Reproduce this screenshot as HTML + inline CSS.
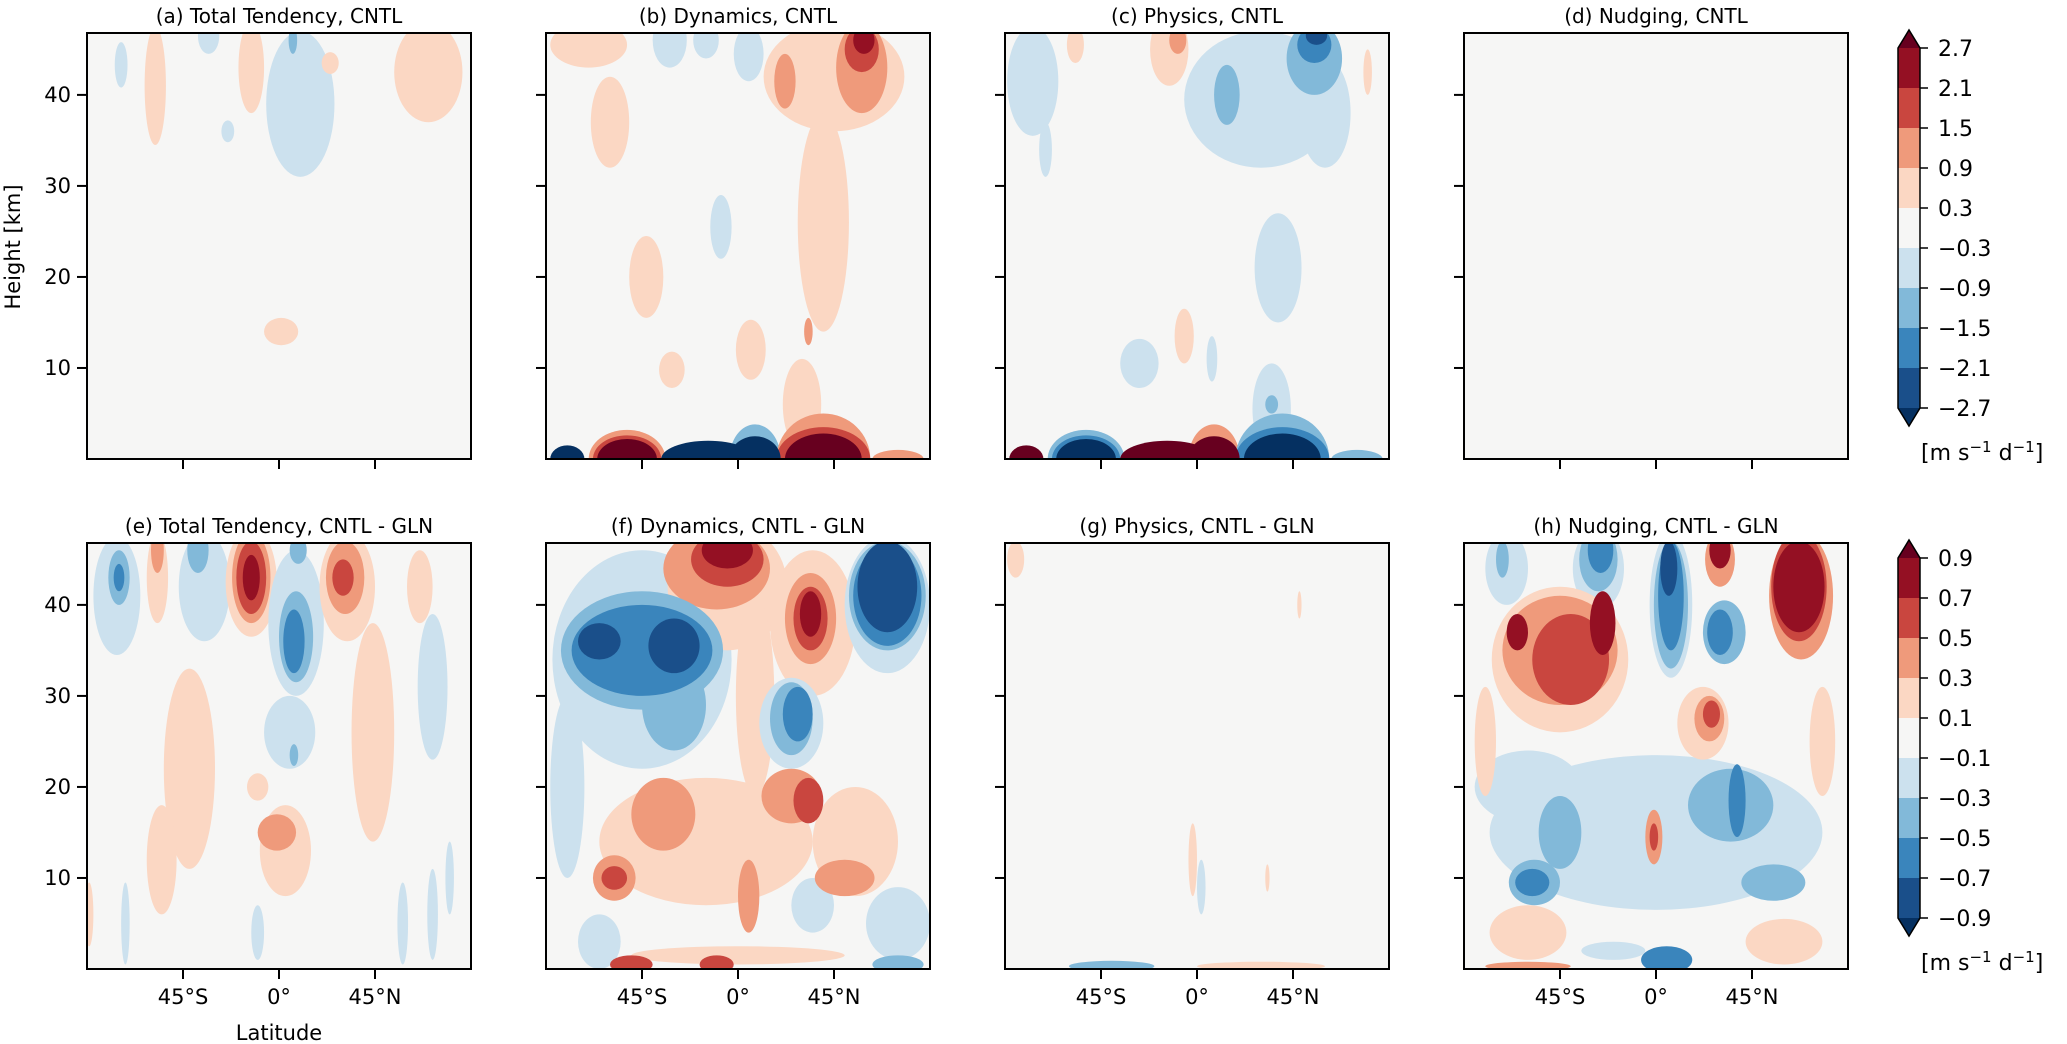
<!DOCTYPE html>
<html><head><meta charset="utf-8"><style>
html,body{margin:0;padding:0;background:#fff;}
svg{display:block;font-family:"DejaVu Sans","Liberation Sans",sans-serif;}
</style></head><body>
<svg id="fig" width="2067" height="1044" viewBox="0 0 2067 1044" xmlns="http://www.w3.org/2000/svg"></svg>
<script>
// ---- data: blobs [lat, height_km, half-width_deg, half-height_km, value]
const levelsTop = [-2.7,-2.1,-1.5,-0.9,-0.3,0.3,0.9,1.5,2.1,2.7];
const levelsBot = [-0.9,-0.7,-0.5,-0.3,-0.1,0.1,0.3,0.5,0.7,0.9];
const panelTitles = ["(a) Total Tendency, CNTL","(b) Dynamics, CNTL","(c) Physics, CNTL","(d) Nudging, CNTL",
 "(e) Total Tendency, CNTL - GLN","(f) Dynamics, CNTL - GLN","(g) Physics, CNTL - GLN","(h) Nudging, CNTL - GLN"];
const yTicks = [10,20,30,40];
const xTicks = [-45,0,45];
const xTickLabels = ["45°S","0°","45°N"];
const cbTopLabels = ["2.7","2.1","1.5","0.9","0.3","\u22120.3","\u22120.9","\u22121.5","\u22122.1","\u22122.7"];
const cbBotLabels = ["0.9","0.7","0.5","0.3","0.1","\u22120.1","\u22120.3","\u22120.5","\u22120.7","\u22120.9"];
const blobsA = [[-74,43.3,3,2.5,-0.5],[-58,41,5,6.5,0.5],[-33,46.5,5,2,-0.5],[-13,43,6,5,0.5],[10,39,16,8,-0.5],[6.5,46,2,1.5,-1.0],
 [-24,36,3,1.2,-0.5],[24,43.5,4,1.2,0.5],[70,42.5,16,5.5,0.5],[1,14,8,1.5,0.5]];
const blobsB = [[-70,45.5,18,2.5,0.5],[-32,46,8,3,-0.5],[-15,46,6,2,-0.5],[5,44.5,7,3,-0.5],[45,42,33,6,0.5],[40,26,12,12,0.5],
 [58,43,12,5,1.2],[58,45,8,2.5,1.8],[59,46,5,1.5,2.4],[22,41.5,5,3,1.2],[-60,37,9,5,0.5],[-8,25.5,5,3.5,-0.5],[-43,20,8,4.5,0.5],
 [6,12,7,3.3,0.5],[-31,9.8,6,2,0.5],[30,6,9,5,0.5],[33,14,2,1.5,1.2],
 [-80,0,8,1.5,-2.8],[-52,0,18,3.2,1.2],[-52,0,16,2.6,2.0],[-52,0,14,2.2,2.8],[8,0,12,3.8,-1.0],[-14,0,22,2,-2.8],[8,0,12,2.5,-2.8],
 [40,0,22,5,1.2],[40,0,22,3.5,2.0],[40,0,18,2.8,2.8],[75,0,12,1,1.2]];
const blobsC = [[-77,41.5,12,6,-0.5],[-71,34,3,3,-0.5],[-57,45.5,4,2,0.5],[-13,45,9,4,0.5],[-9,46,4,1.5,1.2],[30,39.5,36,7.5,-0.5],[60,38,12,6,-0.5],
 [14,40,6,3.3,-1.2],[55,44,13,4,-1.2],[55,45.5,8,2,-1.8],[56,46.5,5,1,-2.4],[80,42.5,2,2.5,0.5],[38,21,11,6,-0.5],[-27,10.5,9,2.7,-0.5],
 [-6,13.5,4.5,3,0.5],[7,11,2.5,2.5,-0.5],[35,5.5,9,5,-0.5],[35,6,3,1,-1.2],
 [-80,0,8,1.5,2.8],[-52,0,18,3.2,-1.2],[-52,0,16,2.6,-2.0],[-52,0,14,2.2,-2.8],[8,0,12,3.8,1.0],[-14,0,22,2,2.8],[8,0,12,2.5,2.8],
 [40,0,22,5,-1.2],[40,0,22,3.5,-2.0],[40,0,18,2.8,-2.8],[75,0,12,1,-1.2]];
const blobsD = [];
const blobsE = [[-76,41,11,6.5,-0.2],[-75,43,5,3,-0.4],[-75,43,2.5,1.5,-0.6],[-57,43,5,5,0.2],[-57,46,3,2.5,0.4],[-35,42,12,6,-0.2],[-38,46,5,2.5,-0.4],
 [-13,42.5,12,6,0.2],[-13,43,9,5,0.4],[-13,43,7,4,0.6],[-13,43,4,2.5,0.8],[8,38,13,8,-0.2],[8,36.5,8,5,-0.4],[7,36,5,3.5,-0.6],[9,46,4,1.5,-0.4],
 [32,42,13,6,0.2],[31,43,9,4,0.4],[30,43,5,2,0.6],[44,26,10,12,0.2],[-42,22,12,11,0.2],[-55,12,7,6,0.2],[66,42,6,4,0.2],[72,31,7,8,-0.2],
 [5,26,12,4,-0.2],[7,23.5,2,1.2,-0.4],[-10,20,5,1.5,0.2],[3,13,12,5,0.2],[-1,15,9,2,0.4],[-72,5,2,4.5,-0.2],[-10,4,3,3,-0.2],[58,5,2.5,4.5,-0.2],
 [72,6,2.5,5,-0.2],[80,10,2,4,-0.2],[-89,6,2,3.5,0.2]];
const blobsF = [[-45,34,42,12,-0.2],[-80,20,8,10,-0.2],[-5,42,28,7,0.2],[-10,44,25,4.5,0.4],[-5,45,17,3,0.6],[-5,46,12,2,0.8],[-45,35,38,6.5,-0.4],[-30,29,15,5,-0.4],
 [-45,35,33,5,-0.6],[-30,35.5,12,3,-0.8],[-65,36,10,2,-0.8],[8,30,9,11,0.2],[35,38,20,8,0.2],[34,38.5,12,5,0.4],[34,38.5,8,3.5,0.6],[34,39,5,2.5,0.8],
 [70,40,20,7.5,-0.2],[70,41,18,6,-0.4],[70,41,16,5.5,-0.6],[70,42,14,5,-0.8],[25,27,15,5,-0.2],[25,27.5,10,4,-0.4],[28,28,7,3,-0.6],
 [-15,14,50,7,0.2],[-58,10,10,2.5,0.4],[-58,10,6,1.3,0.6],[-35,17,15,4,0.4],[25,19,14,3,0.4],[33,18.5,7,2.5,0.6],[50,10,14,2,0.4],[55,14,20,6,0.2],
 [5,8,5,4,0.4],[35,7,10,3,-0.2],[75,5,15,4,-0.2],[-65,3,10,3,-0.2],[0,1.5,50,1,0.2],[-10,0.5,8,1,0.6],[75,0.5,12,1,-0.4],[-50,0.5,10,1,0.6]];
const blobsG = [[-85,45,4,2,0.2],[48,40,1,1.5,0.2],[33,10,1,1.5,0.2],[-2,12,2,4,0.2],[2,9,2,3,-0.2],[-40,0.3,20,0.6,-0.3],[30,0.3,30,0.5,0.2]];
const blobsH = [[-70,44,10,4,-0.2],[-72,45,3,2,-0.4],[-27,44,12,4.5,-0.2],[-27,45,9,3.5,-0.4],[-26,46,6,2.5,-0.6],
 [0,15,78,8.5,-0.2],[-60,20,25,4,-0.2],[-60,4,18,3,0.2],[60,3,18,2.5,0.2],[-80,25,5,6,0.2],[78,25,6,6,0.2],
 [7,40,10,8,-0.2],[7,40,8,7,-0.4],[7,41,6,6,-0.6],[6,44,4,3,-0.8],[32,37,10,3.5,-0.4],[30,37,6,2.5,-0.6],
 [30,45,7,3,0.4],[30,46,5,2,0.8],[68,41,15,7,0.4],[67,42,13,6,0.6],[67,42,12,5,0.8],
 [-45,34,32,8,0.2],[-45,35,27,6,0.4],[-40,34,18,5,0.6],[-65,37,5,2,0.8],[-25,38,6,3.5,0.8],
 [22,27,12,4,0.2],[25,27.5,7,2.5,0.4],[26,28,4,1.5,0.6],[-57,9.5,12,2.5,-0.4],[-58,9.5,8,1.5,-0.6],[55,9.5,15,2,-0.4],[-45,15,10,4,-0.4],
 [35,18,20,4,-0.4],[38,18.5,4,4,-0.6],[-1,14.5,4,3,0.4],[-1,14.5,2,1.5,0.6],[5,1,12,1.5,-0.6],[-60,0.3,20,0.5,0.4],[-20,2,15,1,-0.2]];
const panelBlobs = [blobsA,blobsB,blobsC,blobsD,blobsE,blobsF,blobsG,blobsH];

const colors = ["#053061","#1a4f8a","#3a85bc","#82b9d9","#cce1ee","#f6f6f5","#fbd7c3","#ef9a7b","#c9463f","#941023","#67001f"];
const NS="http://www.w3.org/2000/svg";
const svg=document.getElementById('fig');
function mk(tag,attrs,parent){const e=document.createElementNS(NS,tag);for(const k in attrs)e.setAttribute(k,attrs[k]);(parent||svg).appendChild(e);return e;}
function colorFor(v,lv){let i=0;while(i<lv.length&&v>lv[i])i++;return colors[i];}

const PX=[87,546,1005,1464], PY=[33,543], PW=384, PH=426, ZMAX=46.8;
for(let p=0;p<8;p++){
  const col=p%4,row=Math.floor(p/4);
  const x0=PX[col],y0=PY[row];
  const lv=row===0?levelsTop:levelsBot;
  const xs=lat=>x0+(lat+90)/180*PW;
  const ys=z=>y0+PH-z/ZMAX*PH;
  const g=mk('g',{});
  
  
  const cp=mk('clipPath',{id:'cp'+p},g);
  mk('rect',{x:x0,y:y0,width:PW,height:PH},cp);
  mk('rect',{x:x0,y:y0,width:PW,height:PH,fill:colors[5]},g);
  const cg=mk('g',{'clip-path':'url(#cp'+p+')'},g);
  const bl=panelBlobs[p].slice().sort((a,b)=>Math.abs(a[4])-Math.abs(b[4]));
  bl.forEach(b=>{
    const e=mk('ellipse',{cx:xs(b[0]),cy:ys(b[1]),rx:b[2]/180*PW,ry:b[3]/ZMAX*PH,fill:colorFor(b[4],lv)},cg);
    
    
  });
  mk('rect',{x:x0,y:y0,width:PW,height:PH,fill:'none',stroke:'#000','stroke-width':2},g);
  const t=mk('text',{x:x0+PW/2,y:y0-10,'text-anchor':'middle','font-size':20},g);
  t.textContent=panelTitles[p];
  
  
  yTicks.forEach(v=>{
    mk('line',{x1:x0-10,x2:x0,y1:ys(v),y2:ys(v),stroke:'#000','stroke-width':2},g);
    if(col===0){const l=mk('text',{x:x0-16,y:ys(v)+7,'text-anchor':'end','font-size':21},g);l.textContent=v;
      
      }
  });
  xTicks.forEach((v,i)=>{
    mk('line',{x1:xs(v),x2:xs(v),y1:y0+PH,y2:y0+PH+10,stroke:'#000','stroke-width':2},g);
    if(row===1){const l=mk('text',{x:xs(v),y:y0+PH+35,'text-anchor':'middle','font-size':21},g);l.textContent=xTickLabels[i];
      
      }
  });
}
// axis titles
const yl=mk('text',{x:0,y:0,transform:'translate(20,247) rotate(-90)','text-anchor':'middle','font-size':21});
yl.textContent='Height [km]';


const xl=mk('text',{x:279,y:1040,'text-anchor':'middle','font-size':21});
xl.textContent='Latitude';


// colorbars
[[48,cbTopLabels],[558,cbBotLabels]].forEach(([top,labels],ci)=>{
  const g=mk('g',{});
  
  
  const x=1898,w=22,h=360,seg=h/9;
  for(let i=0;i<9;i++) mk('rect',{x:x,y:top+i*seg,width:w,height:seg+0.5,fill:colors[9-i]},g);
  mk('polygon',{points:`${x},${top} ${x+w/2},${top-18} ${x+w},${top}`,fill:colors[10]},g);
  mk('polygon',{points:`${x},${top+h} ${x+w/2},${top+h+18} ${x+w},${top+h}`,fill:colors[0]},g);
  mk('polygon',{points:`${x},${top} ${x+w/2},${top-18} ${x+w},${top} ${x+w},${top+h} ${x+w/2},${top+h+18} ${x},${top+h}`,fill:'none',stroke:'#000','stroke-width':1.5},g);
  labels.forEach((s,i)=>{
    const y=top+i*seg;
    mk('line',{x1:x+w,x2:x+w+8,y1:y,y2:y,stroke:'#000','stroke-width':1.5},g);
    const t=mk('text',{x:x+w+18,y:y+8,'font-size':22},g);t.textContent=s;
    
    
  });
  const u=mk('text',{x:1921,y:top+h+52,'font-size':22},g);
  u.innerHTML='[m s<tspan dy="-8" font-size="15">\u22121</tspan><tspan dy="8"> d</tspan><tspan dy="-8" font-size="15">\u22121</tspan><tspan dy="8">]</tspan>';
  
  
});
</script>
</body></html>
